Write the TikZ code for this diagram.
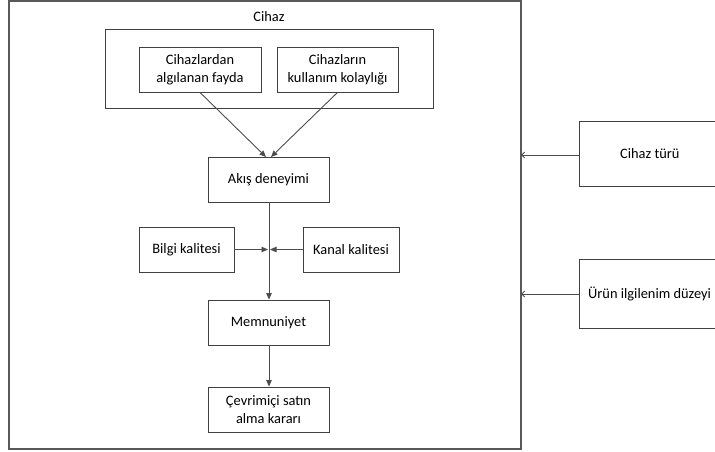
\documentclass[tikz,border=0pt]{standalone}
\usepackage{fontspec}
\setmainfont{Carlito}
\usetikzlibrary{arrows.meta}
\begin{document}
\begin{tikzpicture}[x=1pt,y=-1pt,
  box/.style={draw=black!75,line width=0.9pt,fill=white,align=center,font=\fontsize{14.4}{17.5}\selectfont,inner sep=0pt},
  arr/.style={draw=black!70,line width=0.9pt,-{Triangle[length=6.5pt,width=5.5pt]}},
  oarr/.style={draw=black!70,line width=0.9pt,-{Straight Barb[length=3pt,width=6pt]}},
  lbl/.style={font=\fontsize{14.4}{17.5}\selectfont,inner sep=0pt}]
\useasboundingbox (0,0) rectangle (715,452);
\clip (0,0) rectangle (715,452);
% outer box
\draw[draw=black!65,line width=1.4pt] (9,1) rectangle (521,449);
\node[lbl] (cihaz) at (269,17) {Cihaz};
% inner group
\draw[draw=black!75,line width=0.9pt] (105,29) rectangle (433,108);
\node[box,minimum width=122pt,minimum height=45pt] (fayda) at (200,69.5) {Cihazlardan\\algılanan fayda};
\node[box,minimum width=121pt,minimum height=45pt] (kolay) at (337.5,69.5) {Cihazların\\kullanım kolaylığı};
\node[box,minimum width=121pt,minimum height=45pt] (akis) at (268.5,179.5) {Akış deneyimi};
\node[box,minimum width=95pt,minimum height=45pt] (bilgi) at (186.5,249.5) {Bilgi kalitesi};
\node[box,minimum width=96pt,minimum height=45pt] (kanal) at (351,249.5) {Kanal kalitesi};
\node[box,minimum width=121pt,minimum height=45pt] (memn) at (268.5,322.5) {Memnuniyet};
\node[box,minimum width=121pt,minimum height=45pt] (cevr) at (268.5,409.5) {Çevrimiçi satın\\alma kararı};
\node[box,minimum width=160pt,minimum height=65pt,anchor=west] (tur) at (579,153.5) {};
\node[lbl,anchor=west] (turt) at (620,153.5) {Cihaz türü};
\node[box,minimum width=160pt,minimum height=69pt,anchor=west] (urun) at (579,293.5) {};
\node[lbl,anchor=west] (urunt) at (588,293.5) {Ürün ilgilenim düzeyi};
\coordinate (mid) at (269,249.5);
\coordinate (a1) at (266,157);
\coordinate (a2) at (271,157);
\coordinate (r1) at (521,155);
\coordinate (r2) at (521,294);
\draw[arr] (fayda.south) -- (a1);
\draw[arr] (kolay.south) -- (a2);
\draw[arr] (akis.south -| mid) -- (memn.north -| mid);
\draw[arr] (bilgi.east) -- ([xshift=-1pt]mid);
\draw[arr] (kanal.west) -- ([xshift=1pt]mid);
\draw[arr] (memn.south -| mid) -- (cevr.north -| mid);
\draw[oarr] (tur.west |- r1) -- (r1);
\draw[oarr] (urun.west |- r2) -- (r2);
\end{tikzpicture}
\end{document}
